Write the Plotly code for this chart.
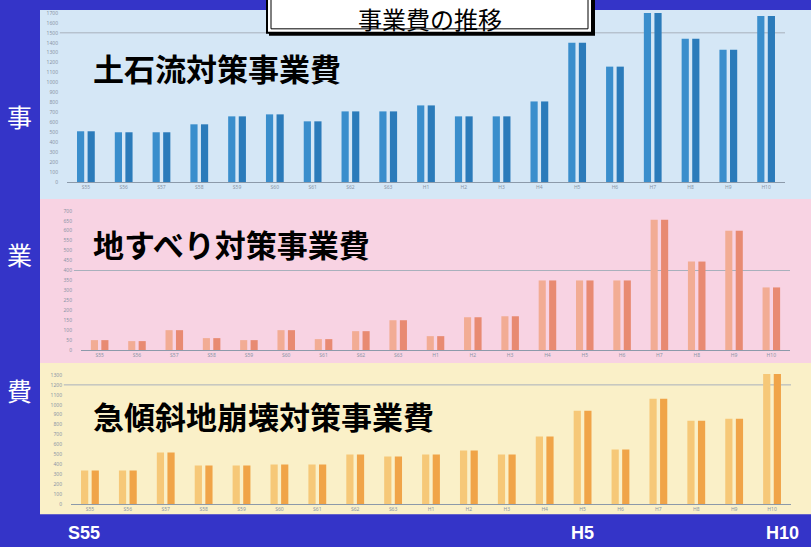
import plotly.graph_objects as go

# ---------------- data ----------------
categories = ["S55", "S56", "S57", "S58", "S59", "S60", "S61", "S62", "S63",
              "H1", "H2", "H3", "H4", "H5", "H6", "H7", "H8", "H9", "H10"]
debris_flow = [510, 500, 500, 580, 660, 680, 610, 710, 710, 770,
               660, 660, 810, 1400, 1160, 1700, 1440, 1330, 1670]
landslide = [50, 45, 100, 60, 50, 100, 55, 95, 150, 70,
             165, 170, 350, 350, 350, 655, 445, 600, 315]
steep_slope = [340, 340, 520, 390, 390, 400, 400, 500, 480, 500,
               540, 500, 680, 940, 550, 1060, 840, 860, 1310]
panel_titles = ["土石流対策事業費", "地すべり対策事業費", "急傾斜地崩壊対策事業費"]
grid_values = [1500, 400, 1200]
y_max = [1730, 735, 1370]
y_dtick = [100, 50, 100]
side_chars = ["事", "業", "費"]
bottom_labels = ["S55", "H5", "H10"]
chart_title = "事業費の推移"

# ---------------- layout helpers ----------------
W, H = 811, 547
def px(x):
    return x / W
def py(y):
    return 1 - y / H

BG = "#3434C8"
JP = "Noto Sans CJK JP"

panels = [
    dict(values=debris_flow, bg="#D5E7F6", c1="#3A8ECC", c2="#2B7BBA",
         box=(40, 811, 10, 200), plot=(67, 785, 10, 183), title_y=68),
    dict(values=landslide, bg="#F8D3E3", c1="#F2AC94", c2="#E88A72",
         box=(40, 811, 200, 365), plot=(81, 790, 205, 352), title_y=245),
    dict(values=steep_slope, bg="#FAF0C8", c1="#F6C878", c2="#F0A448",
         box=(40, 811, 365, 517), plot=(71, 791, 370, 507), title_y=418),
]

fig = go.Figure()
shapes = []
annotations = []
layout_axes = {}

for i, p in enumerate(panels):
    n = "" if i == 0 else str(i + 1)
    xa, ya = "x" + n, "y" + n
    for col in (p["c1"], p["c2"]):
        fig.add_trace(go.Bar(x=categories, y=p["values"], xaxis=xa, yaxis=ya,
                             marker=dict(color=col, line=dict(width=0)),
                             showlegend=False, hoverinfo="skip"))
    x0, x1, y0, y1 = p["plot"]
    layout_axes["xaxis" + n] = dict(
        domain=[px(x0), px(x1)], range=[-0.5, len(categories) - 0.5],
        type="category", showline=True, linecolor="#8C9AAA", linewidth=1,
        ticks="", showgrid=False, zeroline=False, anchor=ya,
        tickfont=dict(size=5, color="#8A96A6", family="Noto Sans"),
        tickangle=0)
    layout_axes["yaxis" + n] = dict(
        domain=[py(y1), py(y0)], range=[0, y_max[i]], anchor=xa,
        showgrid=False, zeroline=False, showline=False, ticks="",
        dtick=y_dtick[i], ticklabelstandoff=8,
        tickfont=dict(size=5, color="#8A96A6", family="Noto Sans"))
    bx0, bx1, by0, by1 = p["box"]
    shapes.append(dict(type="rect", xref="paper", yref="paper", layer="below",
                       x0=px(bx0), x1=px(bx1), y0=py(by1), y1=py(by0),
                       fillcolor=p["bg"], line=dict(width=0)))
    shapes.append(dict(type="line", xref=xa + " domain", yref=ya, layer="below",
                       x0=-0.01, x1=1.0, y0=grid_values[i], y1=grid_values[i],
                       line=dict(color="#A8B0BC", width=1)))
    annotations.append(dict(text=panel_titles[i], xref="paper", yref="paper",
                            x=px(91), y=py(p["title_y"]), xanchor="left",
                            yanchor="middle", showarrow=False,
                            font=dict(family=JP, size=31, color="#000000",
                                      weight="bold")))

# side characters
for ch, yy in zip(side_chars, [117, 255, 392]):
    annotations.append(dict(text=ch, xref="paper", yref="paper", x=px(19),
                            y=py(yy), xanchor="center", yanchor="middle",
                            showarrow=False,
                            font=dict(family=JP, size=25, color="#FFFFFF")))

# bottom era labels
for lab, shift in zip(bottom_labels, [-6, 0, 10]):
    annotations.append(dict(text=lab, xref="x3", yref="paper", x=lab,
                            xshift=shift,
                            y=py(536), xanchor="center", yanchor="middle",
                            showarrow=False,
                            font=dict(family="Liberation Sans", size=18,
                                      color="#FFFFFF", weight="bold")))

# title box
shapes.append(dict(type="rect", xref="paper", yref="paper", layer="above",
                   x0=px(269), x1=px(595), y0=py(36), y1=py(-6),
                   fillcolor="#000000", line=dict(width=0)))
shapes.append(dict(type="rect", xref="paper", yref="paper", layer="above",
                   x0=px(267), x1=px(592), y0=py(33), y1=py(-6),
                   fillcolor="#FFFFFF", line=dict(color="#000000", width=2)))
shapes.append(dict(type="rect", xref="paper", yref="paper", layer="above",
                   x0=px(271), x1=px(588), y0=py(29), y1=py(-6),
                   fillcolor="rgba(0,0,0,0)", line=dict(color="#000000", width=1)))
annotations.append(dict(text=chart_title, xref="paper", yref="paper",
                        x=px(430), y=1.0, xanchor="center", yanchor="top",
                        showarrow=False, borderpad=0,
                        font=dict(family=JP, size=24, color="#000000")))

fig.update_layout(
    width=W, height=H, margin=dict(l=0, r=0, t=0, b=0),
    paper_bgcolor=BG, plot_bgcolor="rgba(0,0,0,0)",
    barmode="group", bargap=0.44, bargroupgap=0.32,
    shapes=shapes, annotations=annotations, showlegend=False,
    **layout_axes)

fig.write_html("out.html",
               config={"displayModeBar": False, "staticPlot": True},
               post_script="document.body.style.margin='0';"
                           "document.body.style.overflow='hidden';"
                           "document.body.style.background='" + BG + "';")
